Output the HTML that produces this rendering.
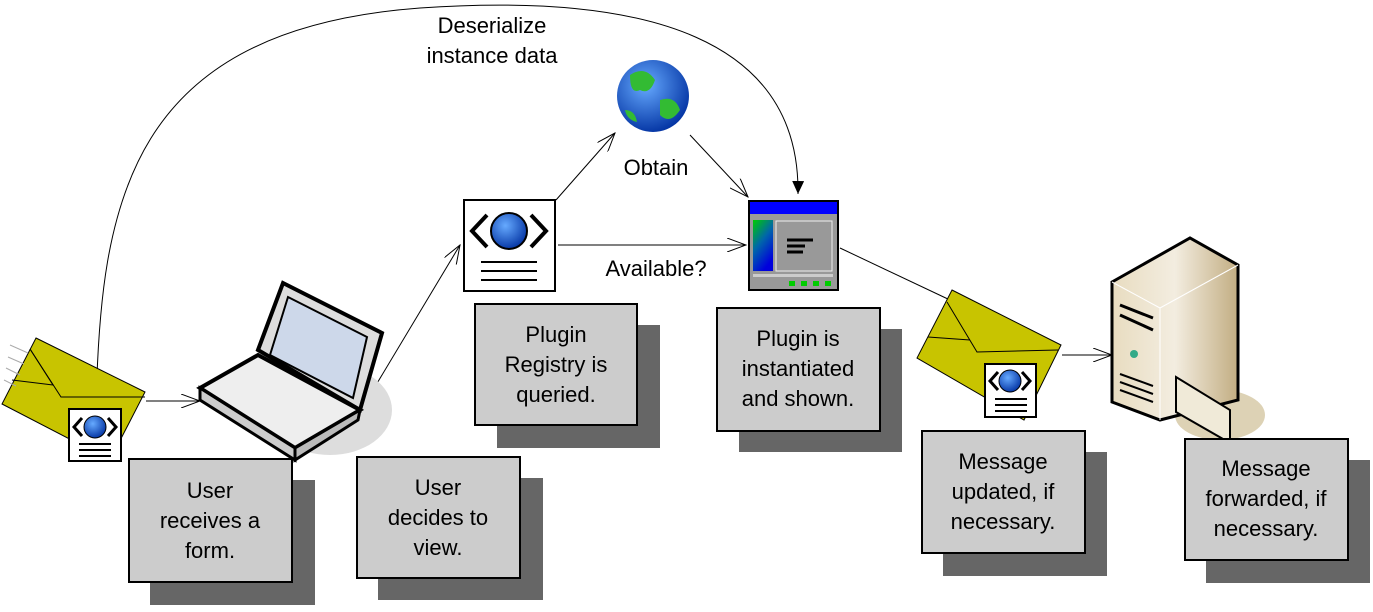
<!DOCTYPE html>
<html><head><style>
body{margin:0;background:#fff;width:1373px;height:607px;overflow:hidden;}
svg text{font-family:"Liberation Sans",sans-serif;font-size:22px;fill:#000;}
</style></head><body>
<svg width="1373" height="607" viewBox="0 0 1373 607" xmlns="http://www.w3.org/2000/svg">
<defs>
<marker id="a" markerWidth="20" markerHeight="14" refX="19" refY="7" orient="auto" markerUnits="userSpaceOnUse">
<path d="M0,0 L19,7 L0,14" fill="none" stroke="#000" stroke-width="1"/></marker>
<marker id="f" markerWidth="14" markerHeight="12" refX="13" refY="6" orient="auto" markerUnits="userSpaceOnUse">
<path d="M0,0 L13,6 L0,12z" fill="#000"/></marker>
<radialGradient id="gl" cx="0.4" cy="0.35" r="0.7"><stop offset="0" stop-color="#6af"/><stop offset="1" stop-color="#0030a0"/></radialGradient>
<linearGradient id="sv" x1="0" x2="1"><stop offset="0" stop-color="#e8dcc0"/><stop offset="0.5" stop-color="#f3ede0"/><stop offset="1" stop-color="#c2ad82"/></linearGradient>
<linearGradient id="wg" x1="0" y1="0" x2="0.5" y2="1"><stop offset="0" stop-color="#0c0"/><stop offset="0.5" stop-color="#06a"/><stop offset="1" stop-color="#00d"/></linearGradient>
</defs>
<!-- connectors -->
<g fill="none" stroke="#000" stroke-width="1">
<path d="M96,410 C100,200 130,30 420,8 C650,-8 800,40 798,194" marker-end="url(#f)"/>
<line x1="146" y1="401" x2="200" y2="401" marker-end="url(#a)"/>
<line x1="373" y1="390" x2="460" y2="245" marker-end="url(#a)"/>
<line x1="556" y1="200" x2="615" y2="133" marker-end="url(#a)"/>
<line x1="690" y1="135" x2="748" y2="197" marker-end="url(#a)"/>
<line x1="558" y1="245" x2="746" y2="245" marker-end="url(#a)"/>
<line x1="840" y1="248" x2="950" y2="300"/>
<line x1="1062" y1="355" x2="1112" y2="355" marker-end="url(#a)"/>
</g>
<text x="492" y="33" text-anchor="middle">Deserialize</text>
<text x="492" y="63" text-anchor="middle">instance data</text>
<text x="656" y="175" text-anchor="middle">Obtain</text>
<text x="656" y="276" text-anchor="middle">Available?</text>
<!-- envelope 1 -->
<g stroke="#000" stroke-width="1">
<path d="M36,338 L145,392 L110,460 L2,404z" fill="#c8c400"/>
<path d="M30,349 L61,397 L145,397" fill="none"/>
<path d="M12,380 L53,385 L30,349" fill="none"/>
</g>
<g stroke="#aaa"><line x1="10" y1="345" x2="28" y2="353"/><line x1="8" y1="357" x2="24" y2="364"/><line x1="6" y1="368" x2="20" y2="375"/><line x1="4" y1="380" x2="16" y2="386"/></g>
<!-- doc icon generic -->
<g id="d1">
<rect x="69" y="409" width="52" height="52" fill="#fff" stroke="#000" stroke-width="2"/>
<circle cx="95" cy="427" r="11" fill="url(#gl)" stroke="#000"/>
<path d="M82,418 L74,427 L82,436 M108,418 L116,427 L108,436" fill="none" stroke="#000" stroke-width="3"/>
<path d="M79,444h32M79,450h32M79,456h32" stroke="#000" stroke-width="2"/>
</g>
<!-- laptop -->
<ellipse cx="330" cy="410" rx="62" ry="45" fill="#ddd"/>
<path d="M258,350 L283,283 L382,333 L360,410z" fill="#ddd" stroke="#000" stroke-width="4"/>
<path d="M270,355 L288,297 L367,337 L353,398z" fill="#cdd8ea" stroke="#000" stroke-width="2"/>
<path d="M200,388 L258,355 L360,410 L295,448z" fill="#eee" stroke="#000" stroke-width="4"/>
<path d="M200,388 L200,400 L295,460 L295,448z" fill="#ccc" stroke="#000" stroke-width="3"/>
<path d="M295,448 L360,410 L358,420 L295,460z" fill="#bbb" stroke="#000" stroke-width="3"/>
<!-- doc icon middle -->
<rect x="464" y="200" width="91" height="91" fill="#fff" stroke="#000" stroke-width="2"/>
<circle cx="509" cy="231" r="18" fill="url(#gl)" stroke="#000" stroke-width="2"/>
<path d="M487,215 L472,231 L487,247 M531,215 L546,231 L531,247" fill="none" stroke="#000" stroke-width="4"/>
<path d="M481,262h56M481,271h56M481,280h56" stroke="#000" stroke-width="2"/>
<!-- globe -->
<circle cx="653" cy="96" r="36" fill="url(#gl)"/>
<path d="M630,75 q15,-10 25,5 q-5,15 -15,10 q-10,5 -10,-15z M660,100 q15,-5 20,10 q-10,15 -20,5z M625,110 q10,0 12,12 q-10,-2 -12,-12z" fill="#3b3"/>
<!-- window -->
<rect x="749" y="201" width="89" height="89" fill="#999" stroke="#000" stroke-width="2"/>
<rect x="750" y="202" width="87" height="12" fill="#00f"/>
<rect x="753" y="220" width="20" height="51" fill="url(#wg)"/>
<rect x="776" y="221" width="56" height="50" fill="#999" stroke="#eee"/>
<path d="M787,240h26M787,246h18M787,252h16" stroke="#000" stroke-width="3"/>
<rect x="753" y="274" width="80" height="3" fill="#ccc"/>
<g fill="#0c0"><rect x="789" y="281" width="6" height="5"/><rect x="801" y="281" width="6" height="5"/><rect x="813" y="281" width="6" height="5"/><rect x="825" y="281" width="6" height="5"/></g>
<!-- envelope 2 -->
<g stroke="#000" stroke-width="1">
<path d="M952,290 L1061,345 L1024,420 L917,358z" fill="#c8c400"/>
<path d="M947,302 L977,352 L1058,350" fill="none"/>
<path d="M928,337 L970,340" fill="none"/>
</g>
<rect x="985" y="364" width="51" height="53" fill="#fff" stroke="#000" stroke-width="2"/>
<circle cx="1010" cy="381" r="11" fill="url(#gl)" stroke="#000"/>
<path d="M998,372 L990,381 L998,390 M1022,372 L1030,381 L1022,390" fill="none" stroke="#000" stroke-width="3"/>
<path d="M995,399h32M995,405h32M995,411h32" stroke="#000" stroke-width="2"/>
<!-- server -->
<ellipse cx="1220" cy="415" rx="45" ry="25" fill="#ddd2b5"/>
<path d="M1112,282 L1190,238 L1238,265 L1238,400 L1160,420 L1112,402z" fill="url(#sv)" stroke="#000" stroke-width="3"/>
<path d="M1112,282 L1160,308 L1238,265 M1160,308 L1160,420" fill="none" stroke="#fff" stroke-width="1"/>
<path d="M1120,305 L1153,318 M1120,315 L1153,330" stroke="#000" stroke-width="3"/>
<circle cx="1134" cy="354" r="4" fill="#3a8"/>
<path d="M1120,374 L1153,386 M1120,382 L1153,394 M1120,390 L1153,402" stroke="#000" stroke-width="2"/>
<path d="M1176,377 L1230,410 L1230,443 L1176,412z" fill="#f0ead8" stroke="#000" stroke-width="2"/>
<!-- boxes -->
<g>
<rect x="150" y="480" width="165" height="125" fill="#666"/>
<rect x="129" y="459" width="163" height="123" fill="#ccc" stroke="#000" stroke-width="2"/>
<text x="210" y="498" text-anchor="middle">User</text><text x="210" y="528" text-anchor="middle">receives a</text><text x="210" y="558" text-anchor="middle">form.</text>
<rect x="378" y="478" width="165" height="122" fill="#666"/>
<rect x="357" y="457" width="163" height="121" fill="#ccc" stroke="#000" stroke-width="2"/>
<text x="438" y="495" text-anchor="middle">User</text><text x="438" y="525" text-anchor="middle">decides to</text><text x="438" y="555" text-anchor="middle">view.</text>
<rect x="497" y="325" width="163" height="123" fill="#666"/>
<rect x="475" y="304" width="162" height="121" fill="#ccc" stroke="#000" stroke-width="2"/>
<text x="556" y="342" text-anchor="middle">Plugin</text><text x="556" y="372" text-anchor="middle">Registry is</text><text x="556" y="402" text-anchor="middle">queried.</text>
<rect x="739" y="329" width="163" height="123" fill="#666"/>
<rect x="717" y="308" width="163" height="123" fill="#ccc" stroke="#000" stroke-width="2"/>
<text x="798" y="346" text-anchor="middle">Plugin is</text><text x="798" y="376" text-anchor="middle">instantiated</text><text x="798" y="406" text-anchor="middle">and shown.</text>
<rect x="943" y="452" width="164" height="124" fill="#666"/>
<rect x="922" y="431" width="163" height="122" fill="#ccc" stroke="#000" stroke-width="2"/>
<text x="1003" y="469" text-anchor="middle">Message</text><text x="1003" y="499" text-anchor="middle">updated, if</text><text x="1003" y="529" text-anchor="middle">necessary.</text>
<rect x="1206" y="460" width="164" height="123" fill="#666"/>
<rect x="1185" y="439" width="163" height="121" fill="#ccc" stroke="#000" stroke-width="2"/>
<text x="1266" y="476" text-anchor="middle">Message</text><text x="1266" y="506" text-anchor="middle">forwarded, if</text><text x="1266" y="536" text-anchor="middle">necessary.</text>
</g>
</svg>
</body></html>
